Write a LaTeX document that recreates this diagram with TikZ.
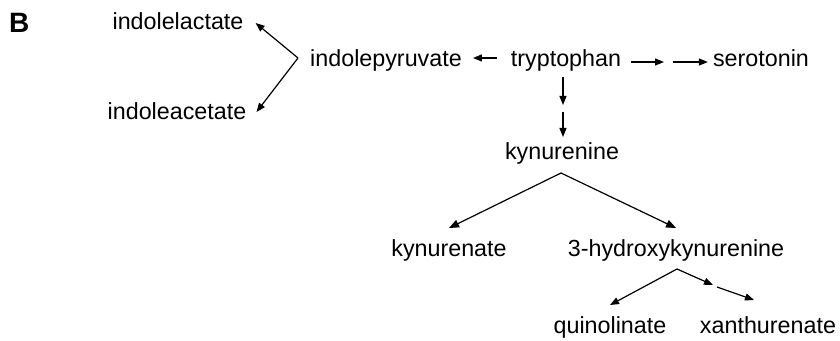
\documentclass[tikz,border=0pt]{standalone}
\usepackage{fontspec}
\setmainfont{Liberation Sans}
\usetikzlibrary{arrows.meta,calc}
\begin{document}
\begin{tikzpicture}[x=1pt,y=1pt,
  met/.style={inner sep=0pt,anchor=base,font=\fontsize{23.3}{28}\selectfont},
  arr/.style={line width=1.2pt,-{Triangle[length=9pt,width=7pt]}},
  bigarr/.style={line width=1.2pt,-{Triangle[length=10pt,width=8pt]}}]
\useasboundingbox (0,0) rectangle (840,340);
\fill[white] (0,0) rectangle (840,340);

% panel letter
\node[inner sep=0pt,anchor=base west,font=\fontsize{28}{32}\selectfont\bfseries] (lbl) at (9,307) {B};

% metabolites
\node[met] (ilac) at (178,310) {indolelactate};
\node[met] (iace) at (177,220) {indoleacetate};
\node[met] (ipyr) at (386,273) {indolepyruvate};
\node[met] (trp)  at (566,273) {tryptophan};
\node[met] (ser)  at (761,273) {serotonin};
\node[met] (kyn)  at (562,180) {kynurenine};
\node[met] (kyna) at (449,83)  {kynurenate};
\node[met] (hk)   at (676,83)  {3-hydroxykynurenine};
\node[met] (quin) at (610,7)   {quinolinate};
\node[met] (xan)  at (768,7)   {xanthurenate};

% branch points and intermediate steps
\coordinate (fork) at (298,282);
\coordinate (sstep) at (668.5,278);
\coordinate (kstep) at (563,231.5);
\coordinate (kapex) at (561,167);
\coordinate (hapex) at (677,71);
\coordinate (xstep) at (715,54);

% indolepyruvate branch
\draw[arr] ([shift={(-14pt,9pt)}]trp.base west) -- ([shift={(11pt,9pt)}]ipyr.base east);
\draw[arr] (fork) -- ([shift={(12pt,7pt)}]ilac.base east);
\draw[arr] (fork) -- ([shift={(10pt,8pt)}]iace.base east);

% serotonin branch
\draw[arr] ([shift={(10pt,5pt)}]trp.base east) -- ([xshift=-4.5pt]sstep);
\draw[arr] ([xshift=4.5pt]sstep) -- ([shift={(-5pt,5pt)}]ser.base west);

% kynurenine branch
\draw[arr] ([yshift=-10pt]trp.base -| kstep) -- ([yshift=3.5pt]kstep);
\draw[arr] ([yshift=-3.5pt]kstep) -- (kstep |- 0,203);
\draw[bigarr] (kapex) -- (kyna.center |- 0,112);
\draw[bigarr] (kapex) -- (hk.center |- 0,112);
\draw[arr] (hapex) -- (quin.center |- 0,35);
\draw[arr] (hapex) -- ([shift={(-2pt,1pt)}]xstep);
\draw[arr] ([shift={(2pt,-1pt)}]xstep) -- (754,40);
\end{tikzpicture}
\end{document}
